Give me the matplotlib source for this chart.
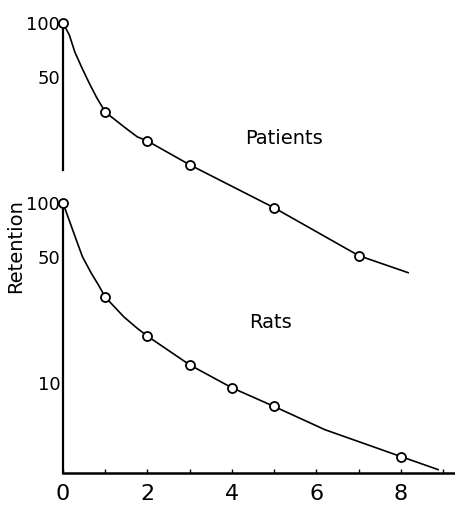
import matplotlib
matplotlib.use("Agg")
import matplotlib.pyplot as plt
from matplotlib.ticker import FixedLocator, NullLocator, NullFormatter

# ---- data ----
pat_x = [0, 1, 2, 3, 5, 7]
pat_y = [100, 32.0, 22.1, 16.3, 9.4, 5.1]
pat_curve_x = [0, 0.15, 0.28, 0.45, 0.62, 0.79, 1, 1.48, 1.76, 2, 3, 5, 7, 8.17]
pat_curve_y = [100, 85.8, 69.0, 56.2, 46.4, 38.8, 32.0, 26.1, 23.3, 22.1,
               16.3, 9.4, 5.1, 4.1]

rat_x = [0, 1, 2, 3, 4, 5, 8]
rat_y = [100, 30.0, 18.2, 12.6, 9.4, 7.4, 3.9]
rat_curve_x = [0, 0.13, 0.30, 0.46, 0.67, 0.84, 1, 1.44, 1.76, 2, 3, 4, 5,
               6.2, 8, 8.88]
rat_curve_y = [100, 82.2, 63.7, 50.3, 40.7, 35.0, 30.0, 23.3, 20.1, 18.2,
               12.6, 9.4, 7.4, 5.5, 3.9, 3.3]

x_ticks = [0, 2, 4, 6, 8]
x_minor = [1, 3, 5, 7, 9]
rat_yticks = [10, 50, 100]
pat_yticks = [50, 100]

W, H = 455, 508
fig = plt.figure(figsize=(W / 100, H / 100), dpi=100)
rect = [63 / W, (H - 473) / H, (W - 63) / W, (473 - 15) / H]

ax_r = fig.add_axes(rect)
ax_p = fig.add_axes(rect)
ax_p.patch.set_visible(False)

for ax in (ax_r, ax_p):
    ax.set_yscale("log")
    ax.set_xlim(0, 9.28)
    ax.spines["top"].set_visible(False)
    ax.spines["right"].set_visible(False)
    ax.yaxis.set_minor_locator(NullLocator())
    ax.yaxis.set_minor_formatter(NullFormatter())
    ax.spines["left"].set_linewidth(1.6)

ax_r.set_ylim(3.16, 1108)
ax_p.set_ylim(0.316, 110.8)

ax_r.spines["left"].set_bounds(3.16, 100)
ax_r.spines["bottom"].set_linewidth(1.8)
ax_p.spines["left"].set_bounds(15.3, 100)
ax_p.spines["bottom"].set_visible(False)
ax_p.xaxis.set_visible(False)

ax_r.yaxis.set_major_locator(FixedLocator(rat_yticks))
ax_r.set_yticklabels([str(v) for v in rat_yticks])
ax_p.yaxis.set_major_locator(FixedLocator(pat_yticks))
ax_p.set_yticklabels([str(v) for v in pat_yticks])
for ax in (ax_r, ax_p):
    ax.tick_params(axis="y", length=0, pad=2, labelsize=13)

ax_r.xaxis.set_major_locator(FixedLocator(x_ticks))
ax_r.xaxis.set_minor_locator(FixedLocator(x_minor))
ax_r.set_xticklabels([str(v) for v in x_ticks])
ax_r.tick_params(axis="x", which="both", direction="in", length=3, width=1,
                 pad=8, labelsize=16)

line_kw = dict(color="black", lw=1.2, clip_on=False)
mk_kw = dict(ls="none", marker="o", ms=6.5, mfc="white", mec="black",
             mew=1.3, clip_on=False, zorder=3)

ax_r.plot(rat_curve_x, rat_curve_y, **line_kw)
ax_r.plot(rat_x, rat_y, **mk_kw)
ax_p.plot(pat_curve_x, pat_curve_y, **line_kw)
ax_p.plot(pat_x, pat_y, **mk_kw)

fig.text(245 / W, 1 - 139 / H, "Patients", ha="left", va="center", fontsize=14)
fig.text(249 / W, 1 - 323 / H, "Rats", ha="left", va="center", fontsize=14)
fig.text(16 / W, 1 - 246 / H, "Retention", rotation=90, ha="center",
         va="center", fontsize=14)

fig.savefig("out.png", dpi=100)
